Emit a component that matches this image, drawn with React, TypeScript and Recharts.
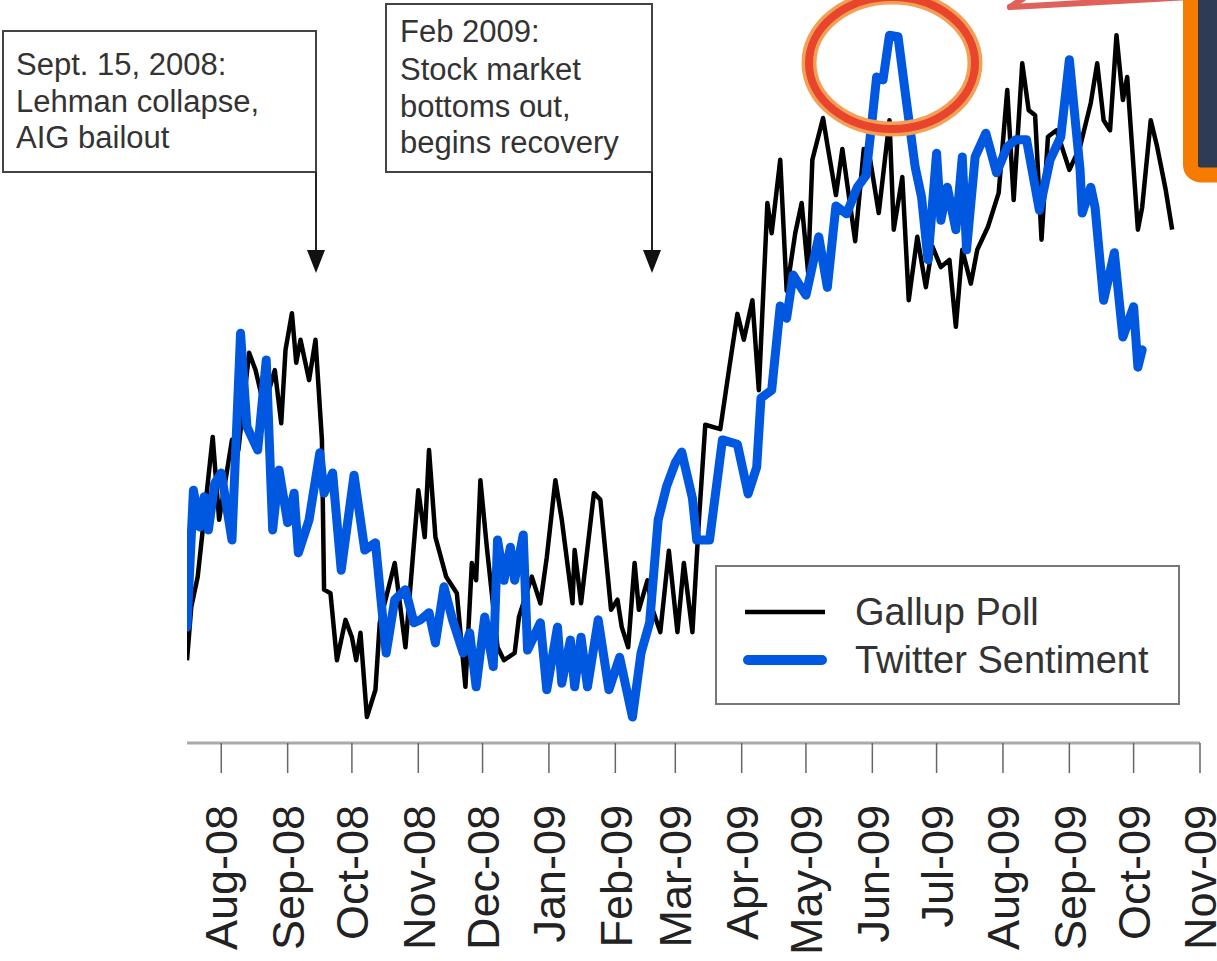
import React from 'react';
import { LineChart, Line, XAxis, YAxis, Legend } from 'recharts';

// days counted from Aug 1, 2008; values are an index (0-100)
const gallupDays = [
  -16, -14, -11, -9, -4, -1, 5, 8, 13, 16, 20, 25, 28, 30, 33, 35, 37, 41, 44, 47,
  48, 51, 54, 58, 61, 63, 65, 68, 72, 74, 81, 86, 92, 95, 97, 100, 105, 110, 114, 117,
  119, 121, 124, 129, 132, 137, 139, 145, 149, 152, 156, 159, 164, 165, 168, 174, 177, 182, 185, 187,
  190, 193, 195, 199, 201, 205, 209, 213, 216, 220, 223, 226, 233, 237, 241, 244, 248, 251, 255, 257,
  261, 264, 268, 271, 274, 276, 281, 283, 287, 290, 296, 300, 303, 307, 312, 314, 318, 321, 325, 329,
  332, 336, 340, 343, 346, 350, 353, 358, 363, 367, 370, 374, 377, 380, 383, 386, 390, 396, 401, 406,
  409, 412, 415, 418, 421, 423, 428, 430, 434, 437, 441, 444,
];
const gallupValues = [
  11.5, 18.9, 23.1, 28.6, 42.5, 31.0, 42.1, 40.7, 54.2, 51.8, 46.7, 51.8, 44.4, 54.6, 59.7, 52.8, 56.0, 50.4, 56.0, 42.1,
  21.3, 20.8, 11.5, 17.1, 14.7, 11.5, 15.3, 3.6, 7.4, 16.7, 25.0, 13.3, 35.1, 28.6, 40.7, 28.6, 23.1, 20.8, 7.8, 25.0,
  22.6, 36.5, 27.2, 13.3, 11.5, 12.5, 17.5, 23.1, 19.4, 25.8, 36.5, 31.0, 19.4, 26.8, 19.4, 34.7, 33.8, 18.5, 19.9, 16.1,
  13.3, 25.0, 18.5, 22.6, 18.9, 15.4, 26.7, 15.4, 25.0, 15.4, 30.8, 44.2, 43.6, 51.7, 59.6, 56.0, 61.5, 49.0, 75.0, 70.8,
  81.0, 62.8, 70.8, 75.0, 65.4, 81.0, 86.8, 83.1, 76.1, 82.5, 69.7, 82.5, 81.0, 73.6, 86.5, 71.3, 78.6, 61.5, 70.3, 63.3,
  69.0, 66.1, 67.1, 57.8, 68.5, 63.8, 68.5, 71.7, 76.4, 90.7, 75.4, 94.4, 87.9, 87.2, 69.9, 84.2, 85.1, 79.6, 82.8, 88.9,
  94.4, 86.5, 85.1, 98.3, 89.3, 92.5, 71.3, 74.4, 86.5, 82.8, 76.8, 71.3,
];

const twitterDays = [
  -16, -13, -10, -8, -6, -3, 0, 5, 9, 12, 17, 21, 24, 27, 31, 34, 36, 41, 46, 48,
  52, 56, 62, 67, 72, 77, 81, 86, 90, 93, 97, 100, 104, 108, 113, 116, 119, 123, 127, 129,
  132, 135, 137, 141, 143, 149, 152, 157, 159, 163, 165, 168, 171, 176, 181, 186, 192, 196, 200, 204,
  208, 212, 215, 220, 222, 228, 234, 241, 246, 250, 252, 257, 261, 264, 267, 273, 279, 283, 287, 292,
  297, 301, 304, 306, 309, 312, 316, 320, 324, 327, 330, 334, 336, 339, 343, 346, 348, 352, 357, 362,
  367, 371, 376, 382, 387, 392, 396, 401, 402, 406, 408, 412, 417, 421, 426, 428, 430,
];
const twitterValues = [
  16.1, 35.1, 30.0, 34.2, 29.6, 36.1, 37.5, 28.2, 56.9, 43.9, 40.7, 53.2, 29.6, 37.9, 30.6, 34.7, 26.4, 31.0, 40.3, 34.7,
  37.5, 24.0, 37.2, 26.8, 27.8, 12.5, 19.9, 21.3, 16.7, 17.1, 18.1, 13.9, 21.7, 17.1, 12.5, 15.3, 7.8, 17.5, 10.6, 28.2,
  22.6, 27.2, 22.6, 28.9, 12.9, 16.7, 7.4, 16.1, 8.3, 14.3, 7.8, 14.7, 7.8, 17.1, 7.4, 11.9, 3.6, 12.5, 16.7, 31.0,
  35.7, 38.9, 40.4, 34.0, 28.2, 28.2, 42.1, 41.5, 34.6, 38.3, 47.9, 49.0, 60.7, 59.0, 65.0, 62.2, 70.3, 63.3, 74.6, 73.5,
  77.2, 78.8, 86.8, 92.5, 92.1, 98.3, 98.1, 88.9, 80.0, 75.8, 67.1, 81.9, 72.6, 77.2, 71.3, 81.4, 68.5, 81.4, 84.7, 79.2,
  82.8, 83.8, 83.8, 74.0, 81.0, 84.2, 94.9, 79.6, 73.6, 77.2, 74.4, 61.5, 68.1, 56.4, 60.6, 52.2, 54.6,
];

const monthTicks = [0, 31, 61, 92, 122, 153, 184, 212, 243, 273, 304, 334, 365, 396, 426, 457];
const monthLabels = [
  'Aug-08', 'Sep-08', 'Oct-08', 'Nov-08', 'Dec-08', 'Jan-09', 'Feb-09', 'Mar-09',
  'Apr-09', 'May-09', 'Jun-09', 'Jul-09', 'Aug-09', 'Sep-09', 'Oct-09', 'Nov-09',
];

const gallup = gallupDays.map((d, i) => ({ day: d, value: gallupValues[i] }));
const twitter = twitterDays.map((d, i) => ({ day: d, value: twitterValues[i] }));

const FONT = '"Liberation Sans", Arial, Helvetica, sans-serif';
const BLUE = '#0057E0';

const MonthTick = (props: any) => {
  const { x, payload } = props;
  const label = monthLabels[monthTicks.indexOf(payload.value)];
  return (
    <g transform={`translate(${x},805)`}>
      <text transform="rotate(-90)" textAnchor="end" dy="0.36em" fontSize={45} fill="#222" fontFamily={FONT}>
        {label}
      </text>
    </g>
  );
};

const LegendBox = () => (
  <div
    style={{
      position: 'relative', width: 465, height: 140, border: '2px solid #777',
      boxSizing: 'border-box', background: '#fff', fontFamily: FONT,
    }}
  >
    <svg width={465} height={140} style={{ position: 'absolute', left: -2, top: -2 }}>
      <line x1={30} y1={47} x2={110} y2={47} stroke="#000" strokeWidth={4.5} />
      <line x1={33} y1={95} x2={107} y2={95} stroke={BLUE} strokeWidth={10} strokeLinecap="round" />
      <text x={140} y={60} fontSize={38} fill="#333" fontFamily={FONT}>Gallup Poll</text>
      <text x={140} y={108} fontSize={38} fill="#333" fontFamily={FONT}>Twitter Sentiment</text>
    </svg>
  </div>
);

export default function App() {
  return (
    <div style={{ position: 'absolute', left: 0, top: 0, width: 1217, height: 961, background: '#fff', fontFamily: FONT }}>
      <LineChart width={1217} height={961} margin={{ top: 23, right: 17, bottom: 18, left: 187 }}>
        <XAxis
          dataKey="day"
          type="number"
          domain={[-16, 457]}
          ticks={monthTicks}
          allowDataOverflow
          height={200}
          tickSize={30}
          tickLine={{ stroke: '#666', strokeWidth: 1.5 }}
          axisLine={{ stroke: '#aaa', strokeWidth: 3 }}
          tick={<MonthTick />}
        />
        <YAxis hide domain={[0, 100]} />
        <Legend
          layout="horizontal"
          verticalAlign="middle"
          align="center"
          content={() => <LegendBox />}
          wrapperStyle={{ left: 715, top: 565, width: 465, height: 140 }}
        />
        <Line
          data={gallup}
          dataKey="value"
          name="Gallup Poll"
          type="linear"
          stroke="#000"
          strokeWidth={4.5}
          strokeLinejoin="round"
          dot={false}
          isAnimationActive={false}
        />
        <Line
          data={twitter}
          dataKey="value"
          name="Twitter Sentiment"
          type="linear"
          stroke={BLUE}
          strokeWidth={9}
          strokeLinejoin="round"
          strokeLinecap="round"
          dot={false}
          isAnimationActive={false}
        />
      </LineChart>

      <svg width={1217} height={961} style={{ position: 'absolute', left: 0, top: 0, pointerEvents: 'none' }}>
        {/* annotation 1 */}
        <rect x={3} y={31} width={313} height={141} fill="#fff" stroke="#444" strokeWidth={2} />
        <text fontSize={31} fill="#333" fontFamily={FONT}>
          <tspan x={16} y={75}>Sept. 15, 2008:</tspan>
          <tspan x={16} y={112}>Lehman collapse,</tspan>
          <tspan x={16} y={148}>AIG bailout</tspan>
        </text>
        <line x1={316} y1={172} x2={316} y2={255} stroke="#222" strokeWidth={2} />
        <polygon points="307,250 325,250 316,273" fill="#111" />

        {/* annotation 2 */}
        <rect x={386} y={4} width={266} height={168} fill="#fff" stroke="#444" strokeWidth={2} />
        <text fontSize={31} fill="#333" fontFamily={FONT}>
          <tspan x={400} y={42}>Feb 2009:</tspan>
          <tspan x={400} y={80}>Stock market</tspan>
          <tspan x={400} y={117}>bottoms out,</tspan>
          <tspan x={400} y={153}>begins recovery</tspan>
        </text>
        <line x1={652} y1={172} x2={652} y2={255} stroke="#222" strokeWidth={2} />
        <polygon points="643,250 661,250 652,273" fill="#111" />

        {/* highlight ring */}
        <ellipse cx={892} cy={63} rx={83} ry={66} fill="none" stroke="#F2A055" strokeWidth={15} />
        <ellipse cx={892} cy={63} rx={83} ry={66} fill="none" stroke="#E8452C" strokeWidth={8} />

        {/* pointer and inset box */}
        <line x1={1010} y1={7} x2={1190} y2={-3} stroke="#E0605A" strokeWidth={6} strokeLinecap="round" />
        <line x1={1010} y1={7} x2={1024} y2={-2} stroke="#E0605A" strokeWidth={6} strokeLinecap="round" />
        <rect x={1190.5} y={-20} width={60} height={195} rx={10} fill="#2F3B55" stroke="#F57C00" strokeWidth={15} />
      </svg>
    </div>
  );
}
